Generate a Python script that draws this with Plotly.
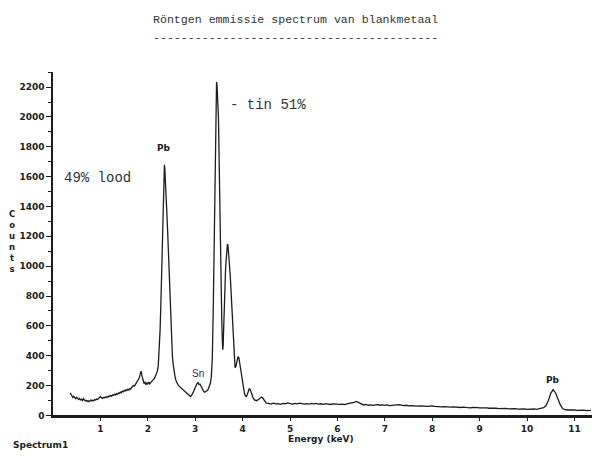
import plotly.graph_objects as go

# ---- data (energy keV, counts) ----
background_low = [
    (0.36, 152), (0.38, 138), (0.40, 126), (0.42, 120), (0.44, 128), (0.46, 118), (0.48, 112),
    (0.50, 121), (0.52, 110), (0.54, 106), (0.56, 114), (0.58, 104), (0.60, 108), (0.62, 100),
    (0.64, 112), (0.66, 103), (0.68, 97), (0.70, 101), (0.72, 94), (0.74, 99), (0.76, 92),
    (0.78, 96), (0.80, 104), (0.82, 97), (0.84, 101), (0.86, 98), (0.88, 106), (0.90, 103),
    (0.92, 110), (0.94, 107), (0.96, 115), (0.98, 121), (1.00, 126), (1.02, 118), (1.04, 114),
    (1.06, 120), (1.08, 117), (1.10, 123), (1.12, 119), (1.14, 126), (1.16, 122), (1.18, 130),
    (1.20, 127), (1.22, 134), (1.24, 129), (1.26, 138), (1.28, 135), (1.30, 142), (1.32, 137),
    (1.34, 146), (1.36, 141), (1.38, 150), (1.40, 147), (1.42, 156), (1.44, 151), (1.46, 162),
    (1.48, 158), (1.50, 168), (1.52, 163), (1.54, 172), (1.56, 166), (1.58, 175), (1.60, 170),
    (1.62, 180), (1.64, 176), (1.66, 187), (1.68, 192), (1.70, 200), (1.72, 196), (1.74, 208),
    (1.76, 214), (1.78, 222), (1.80, 235), (1.82, 252), (1.84, 278), (1.86, 296), (1.88, 262),
    (1.90, 230), (1.92, 214), (1.94, 222), (1.96, 206), (1.98, 218), (2.00, 210), (2.02, 224),
    (2.04, 212), (2.06, 220), (2.08, 226), (2.10, 232), (2.12, 240), (2.14, 248), (2.16, 262),
    (2.18, 278), (2.20, 295),
]

pb_m_peak = [
    (2.22, 330), (2.24, 420), (2.26, 580), (2.28, 800), (2.30, 1020), (2.31, 1130), (2.32, 1300),
    (2.33, 1450), (2.34, 1590), (2.35, 1680), (2.36, 1650), (2.37, 1570), (2.38, 1520),
    (2.40, 1370), (2.42, 1220), (2.44, 1040), (2.46, 860), (2.48, 660), (2.50, 500), (2.52, 390),
    (2.54, 330), (2.56, 280), (2.58, 250), (2.60, 228),
]

background_mid = [
    (2.62, 212), (2.64, 205), (2.66, 196), (2.68, 190), (2.70, 184), (2.72, 178), (2.74, 170),
    (2.76, 164), (2.78, 158), (2.80, 152), (2.82, 146), (2.84, 140), (2.86, 134), (2.88, 128),
    (2.90, 126), (2.92, 132), (2.94, 142), (2.96, 156), (2.98, 172), (3.00, 188), (3.02, 200),
    (3.04, 214), (3.06, 220), (3.08, 206), (3.10, 210), (3.12, 196), (3.14, 180), (3.16, 168),
    (3.18, 160), (3.20, 155), (3.22, 158), (3.24, 160), (3.26, 168), (3.28, 180), (3.30, 196),
    (3.32, 215),
]

sn_l_peaks = [
    (3.34, 260), (3.36, 380), (3.38, 700), (3.40, 1130), (3.41, 1450), (3.42, 1800), (3.43, 2100),
    (3.44, 2200), (3.45, 2235), (3.46, 2210), (3.47, 2140), (3.48, 2070), (3.49, 2000),
    (3.50, 1800), (3.51, 1560), (3.52, 1350), (3.53, 1150), (3.54, 950), (3.55, 780), (3.56, 640),
    (3.57, 520), (3.58, 440), (3.59, 470), (3.60, 580), (3.61, 740), (3.62, 840), (3.63, 920),
    (3.64, 980), (3.65, 1030), (3.66, 1090), (3.67, 1130), (3.68, 1148), (3.69, 1140),
    (3.70, 1110), (3.72, 1020), (3.74, 930), (3.76, 820), (3.77, 756), (3.78, 680), (3.80, 530),
    (3.82, 400), (3.84, 320), (3.86, 330), (3.88, 365), (3.90, 390), (3.92, 388), (3.94, 350),
    (3.96, 300), (3.98, 265), (4.00, 215), (4.02, 175), (4.04, 145), (4.06, 130), (4.08, 126),
    (4.10, 142), (4.12, 165), (4.14, 178), (4.16, 174), (4.18, 152), (4.20, 132), (4.22, 118),
    (4.24, 108), (4.26, 100), (4.28, 103), (4.30, 98), (4.32, 104), (4.34, 110), (4.36, 116),
    (4.38, 120), (4.40, 123), (4.42, 118), (4.44, 108), (4.46, 97), (4.48, 88), (4.50, 82),
]

background_high = [
    (4.55, 80), (4.60, 76), (4.65, 82), (4.70, 77), (4.75, 79), (4.80, 74), (4.85, 81), (4.90, 78),
    (4.95, 84), (5.00, 79), (5.05, 76), (5.10, 80), (5.15, 77), (5.20, 82), (5.25, 78), (5.30, 75),
    (5.35, 79), (5.40, 76), (5.45, 80), (5.50, 77), (5.55, 81), (5.60, 76), (5.65, 78), (5.70, 74),
    (5.75, 79), (5.80, 76), (5.85, 73), (5.90, 77), (5.95, 75), (6.00, 78), (6.05, 74), (6.10, 76),
    (6.15, 72), (6.20, 77), (6.25, 79), (6.30, 82), (6.35, 88), (6.40, 94), (6.45, 86), (6.50, 76),
    (6.55, 70), (6.60, 73), (6.65, 68), (6.70, 71), (6.75, 67), (6.80, 70), (6.85, 72), (6.90, 68),
    (6.95, 71), (7.00, 67), (7.05, 70), (7.10, 66), (7.15, 69), (7.20, 67), (7.25, 71), (7.30, 72),
    (7.35, 68), (7.40, 65), (7.45, 68), (7.50, 64), (7.55, 66), (7.60, 63), (7.65, 65), (7.70, 62),
    (7.75, 64), (7.80, 61), (7.85, 63), (7.90, 60), (7.95, 62), (8.00, 64), (8.05, 60), (8.10, 58),
    (8.15, 61), (8.20, 57), (8.25, 59), (8.30, 56), (8.35, 58), (8.40, 55), (8.45, 57), (8.50, 54),
    (8.55, 56), (8.60, 53), (8.65, 55), (8.70, 52), (8.75, 54), (8.80, 51), (8.85, 53), (8.90, 55),
    (8.95, 52), (9.00, 50), (9.05, 52), (9.10, 49), (9.15, 51), (9.20, 48), (9.25, 50), (9.30, 47),
    (9.35, 49), (9.40, 46), (9.45, 48), (9.50, 45), (9.55, 47), (9.60, 44), (9.65, 46), (9.70, 43),
    (9.75, 45), (9.80, 42), (9.85, 44), (9.90, 41), (9.95, 43), (10.00, 40), (10.05, 42),
    (10.10, 40), (10.15, 43), (10.20, 41), (10.25, 44), (10.30, 46), (10.35, 52), (10.40, 66),
    (10.45, 100), (10.50, 148), (10.55, 172), (10.60, 152), (10.65, 112), (10.70, 72), (10.75, 46),
    (10.80, 38), (10.85, 36), (10.90, 38), (10.95, 35), (11.00, 37), (11.05, 34), (11.10, 36),
    (11.15, 33), (11.20, 35), (11.25, 32), (11.30, 34), (11.35, 33),
]

x_tick_values = [1, 2, 3, 4, 5, 6, 7, 8, 9, 10, 11]
x_tick_labels = ["1", "2", "3", "4", "5", "6", "7", "8", "9", "10", "11"]

# peak labels: (energy, counts, text)
peak_labels = [(2.35, 1790, "Pb"), (3.45, 2330, "Sn"), (10.55, 240, "Pb")]

segments = [background_low, pb_m_peak, background_mid, sn_l_peaks, background_high]
energy = [e for seg in segments for e, c in seg]
counts = [c for seg in segments for e, c in seg]

W, H = 592, 456
INK = "#1c1c1c"

fig = go.Figure(go.Scatter(x=energy, y=counts, mode="lines",
                           line=dict(color=INK, width=1.3), hoverinfo="skip"))

tickfont = dict(family="DejaVu Sans", size=9, color=INK, weight="bold")

fig.update_layout(
    width=W, height=H,
    margin=dict(l=0, r=0, t=0, b=0),
    paper_bgcolor="white", plot_bgcolor="white",
    showlegend=False,
    xaxis=dict(domain=[53 / W, 1], range=[0, 11.37], showline=True, linecolor=INK,
               linewidth=2.5, ticks="outside", ticklen=3, tickwidth=1.2, tickcolor=INK,
               tickvals=x_tick_values, ticktext=x_tick_labels, tickfont=tickfont,
               showgrid=False, zeroline=False),
    yaxis=dict(domain=[(H - 420) / H, (H - 73) / H], range=[0, 2300], showline=True,
               linecolor=INK, linewidth=1.5, ticks="outside", ticklen=5, tickwidth=1.2,
               tickcolor=INK, tick0=0, dtick=200, tickfont=tickfont, showgrid=False,
               zeroline=False,
               minor=dict(ticks="outside", ticklen=3, tickwidth=1, tickcolor=INK, dtick=100)),
)


def px(x, y):
    return dict(x=x / W, y=1 - y / H, xref="paper", yref="paper")


mono = "Liberation Mono"
anns = [
    dict(**px(295, 20), text="Röntgen emmissie spectrum van blankmetaal",
         font=dict(family=mono, size=11.6, color="#333")),
    dict(**px(295, 38), text="-" * 41, font=dict(family=mono, size=11.6, color="#333")),
    dict(**px(97, 180), text="49% lood", font=dict(family=mono, size=14, color="#333")),
    dict(**px(268, 106), text="- tin 51%", font=dict(family=mono, size=14, color="#333")),
    dict(**px(198, 378), text="Sn", font=dict(family="Liberation Sans", size=10, color="#333")),
    dict(**px(321, 444), text="Energy (keV)", font=tickfont, borderpad=0),
    dict(**px(40, 450), text="Spectrum1", font=tickfont),
    dict(**px(12, 244), text="C<br>o<br>u<br>n<br>t<br>s",
         font=dict(family="DejaVu Sans", size=8.5, color=INK, weight="bold")),
]
for e, c, t in peak_labels:
    anns.append(dict(x=e, y=c, xref="x", yref="y", text=t, font=tickfont))

for a in anns:
    a.setdefault("showarrow", False)
    a.setdefault("xanchor", "center")
    a.setdefault("yanchor", "middle")
fig.update_layout(annotations=anns)

# the page body has a default 8px margin; remove it so the 592x456 figure fills the window
fig.write_html("out.html",
               config={"displayModeBar": False},
               post_script="document.body.style.margin='0';document.body.style.overflow='hidden';")
